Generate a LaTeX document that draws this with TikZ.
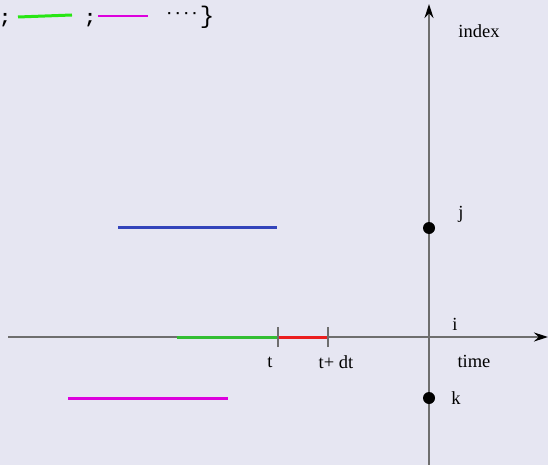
\documentclass[tikz,border=0pt]{standalone}
\usepackage{fontspec}
\setmainfont{Liberation Serif}
\setmonofont{Liberation Mono}
\usetikzlibrary{arrows.meta}
\definecolor{bg}{RGB}{230,230,242}
\definecolor{axisgray}{RGB}{110,110,110}
\definecolor{segblue}{RGB}{51,68,187}
\definecolor{seggreen}{RGB}{51,190,51}
\definecolor{segred}{RGB}{235,30,30}
\definecolor{segmag}{RGB}{221,0,221}
\definecolor{brightgreen}{RGB}{40,230,20}
\tikzset{
  axis/.style={draw=axisgray, line width=1.7pt, -{Stealth[length=14pt,width=9pt,color=black]}},
  seg/.style={line width=3pt},
  tickmark/.style={draw=axisgray, line width=1.7pt},
  lbl/.style={font=\fontsize{18.5}{18.5}\selectfont, inner sep=0pt},
  mono/.style={font=\fontsize{19}{19}\selectfont\ttfamily\bfseries, inner sep=0pt},
  dot/.style={circle, fill=black, inner sep=0pt, minimum size=12pt}
}
\begin{document}
\begin{tikzpicture}[x=1pt,y=-1pt]
\fill[bg] (0,0) rectangle (548,465);
\useasboundingbox (0,0) rectangle (548,465);
% axes
\coordinate (hx0) at (8,337);
\coordinate (hx1) at (548,337);
\coordinate (vy0) at (429,465);
\coordinate (vy1) at (429,4);
\draw[axis] (hx0) -- (hx1);
\draw[axis] (vy0) -- (vy1);
% segments
\coordinate (b0) at (118,227); \coordinate (b1) at (277,227);
\draw[seg, segblue] (b0) -- (b1);
\coordinate (g0) at (177,337); \coordinate (t) at (278,337);
\coordinate (tdt) at (328,337);
\draw[seg, seggreen] (g0) -- (t);
\draw[seg, segred] (t) -- (tdt);
\draw[tickmark] ([yshift=-10]t) -- ([yshift=10]t);
\draw[tickmark] ([yshift=-10]tdt) -- ([yshift=10]tdt);
\coordinate (m0) at (68,398); \coordinate (m1) at (228,398);
\draw[seg, segmag] (m0) -- (m1);
% dots
\node[dot] (j) at (429,228) {};
\node[dot] (k) at (429,398) {};
% labels
\node[lbl] (tl) at (270,362) {t};
\node[lbl] (tdtl) at (336,362) {t+ dt};
\node[lbl] (idx) at (479,31) {index};
\node[lbl] (jl) at (461,214) {j};
\node[lbl] (il) at (455,324) {i};
\node[lbl] (time) at (474,361) {time};
\node[lbl] (kl) at (456,398) {k};
% top-left legend
\node[mono] (s1) at (5,20) {;};
\coordinate (lg0) at (18,17); \coordinate (lg1) at (72,15);
\draw[line width=3pt, brightgreen] (lg0) -- (lg1);
\node[mono] (s2) at (90,20) {;};
\coordinate (lm0) at (98,16); \coordinate (lm1) at (148,16);
\draw[line width=1.5pt, segmag] (lm0) -- (lm1);
\node[font=\fontsize{14}{14}\selectfont\ttfamily\bfseries, inner sep=0pt] (dots) at (182,15) {····};
\node[font=\fontsize{24}{24}\selectfont\ttfamily, inner sep=0pt] (br) at (207,17) {\}};
\end{tikzpicture}
\end{document}
